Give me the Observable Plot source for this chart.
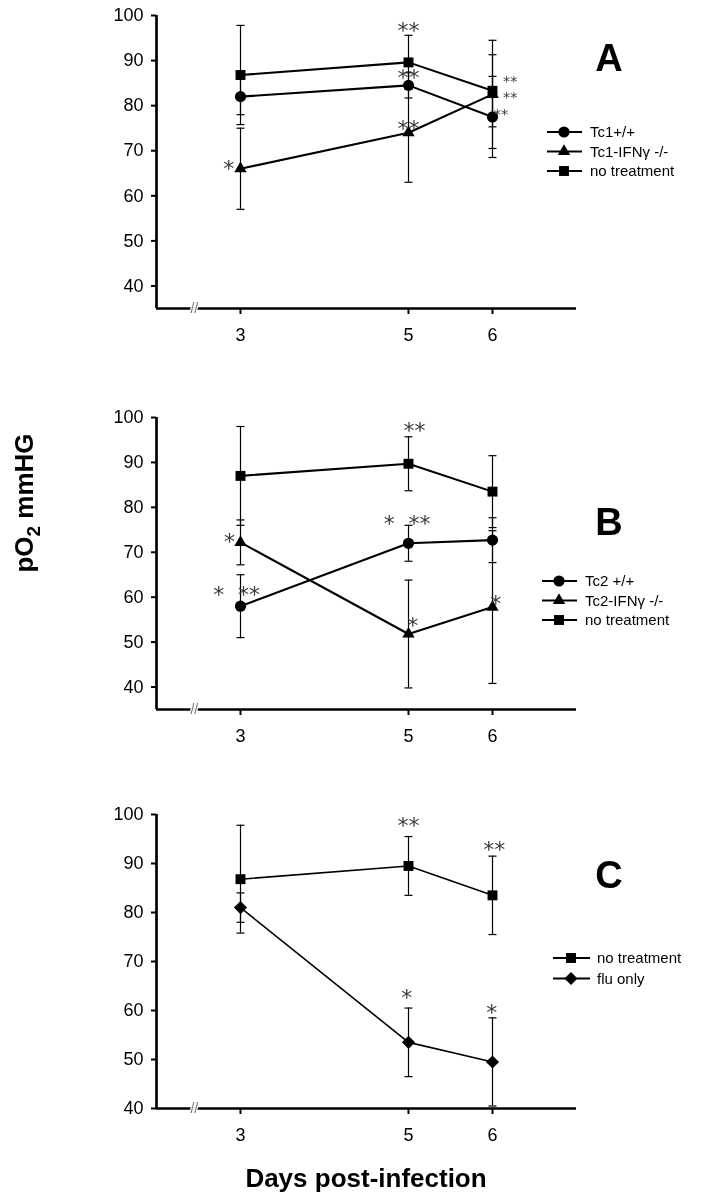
<!DOCTYPE html>
<html><head><meta charset="utf-8">
<script src="https://cdn.jsdelivr.net/npm/d3@7"></script>
<script src="https://cdn.jsdelivr.net/npm/@observablehq/plot@0.6"></script>
<style>
body{margin:0;background:#fff;font-family:"Liberation Sans",Arial,sans-serif;}
#fig{position:relative;width:701px;height:1199px;overflow:hidden;background:#fff}
.panel{position:absolute;left:0;will-change:transform}
#overlay{position:absolute;left:0;top:0}
</style></head><body><div id="fig"></div><script>
// ---------- shared ----------
const days = [3, 5, 6];
const xTicks = [3, 5, 6];
const xDomain = [2, 7];
const yTicks = [40, 50, 60, 70, 80, 90, 100];
const breakDay = 2.45;
const NB = "\u00A0";

// ---------- Panel A ----------
const aLabels = ["Tc1+/+", "Tc1-IFNγ -/-", "no treatment"];
const aTc1Mean = [82, 84.5, 77.5];
const aTc1Sd = [4, 2.8, 9];
const aTc1KoMean = [66, 74, 82.5];
const aTc1KoSd = [9, 11, 12];
const aNoTxMean = [86.8, 89.6, 83.3];
const aNoTxSd = [11, 6, 8];
const aStarDay = [5, 5, 5, 2.86];
const aStarValue = [97.3, 86.7, 75.6, 66.7];
const aStarText = ["**", "**", "**", "*"];
// stacked significance marks beside day 6
const aStackDay = [6.21];
const aStackValue = [82.6];
const aStackText = ["**\n**\n**" + NB.repeat(4)];

// ---------- Panel B ----------
const bLabels = ["Tc2 +/+", "Tc2-IFNγ -/-", "no treatment"];
const bTc2Mean = [58, 72, 72.7];
const bTc2Sd = [7, 4, 5];
const bTc2KoMean = [72.2, 51.8, 57.8];
const bTc2KoSd = [5, 12, 17];
const bNoTxMean = [87, 89.7, 83.5];
const bNoTxSd = [11, 6, 8];
const bStarDay = [5.07, 4.77, 5.13, 2.87, 2.74, 3.10, 5.05, 6.04];
const bStarValue = [97.6, 76.9, 76.9, 72.9, 61.1, 61.1, 54.2, 59.1];
const bStarText = ["**", "*", "**", "*", "*", "**", "*", "*"];

// ---------- Panel C ----------
const cLabels = ["no treatment", "flu only"];
const cNoTxMean = [86.8, 89.5, 83.5];
const cNoTxSd = [11, 6, 8];
const cFluMean = [81, 53.5, 49.5];
const cFluSd = [3, 7, 9];
const cStarDay = [5.0, 6.02, 4.98, 5.99];
const cStarValue = [98.2, 93.3, 63.1, 60.2];
const cStarText = ["**", "**", "*", "*"];

// ---------- styles ----------
const SYM = {circle: {name: "circle", r: 5.6, d3: d3.symbolCircle},
             triangle: {name: "triangle", r: 4.6, d3: d3.symbolTriangle},
             square: {name: "square", r: 5.6, d3: d3.symbolSquare},
             diamond: {name: "diamond2", r: 5.9, d3: d3.symbolDiamond2}};
const capSymbol = {draw(ctx) { ctx.moveTo(-4, 0); ctx.lineTo(4, 0); }};

const panels = [
  {top: 0, area: 293, yDomain: [35, 100], lineWidth: 2.1, letter: "A", letterBase: 71,
   series: [{mean: aTc1Mean, sd: aTc1Sd, sym: SYM.circle},
            {mean: aTc1KoMean, sd: aTc1KoSd, sym: SYM.triangle},
            {mean: aNoTxMean, sd: aNoTxSd, sym: SYM.square}],
   labels: aLabels, stars: [aStarDay, aStarValue, aStarText], stack: [aStackDay, aStackValue, aStackText],
   legend: {rows: [132, 151.5, 171], x0: 547, x1: 582, sx: 564, tx: 590}},
  {top: 402, area: 292, yDomain: [35, 100], lineWidth: 2.1, letter: "B", letterBase: 535,
   series: [{mean: bTc2Mean, sd: bTc2Sd, sym: SYM.circle},
            {mean: bTc2KoMean, sd: bTc2KoSd, sym: SYM.triangle},
            {mean: bNoTxMean, sd: bNoTxSd, sym: SYM.square}],
   labels: bLabels, stars: [bStarDay, bStarValue, bStarText],
   legend: {rows: [581, 600.5, 620], x0: 542, x1: 577, sx: 559, tx: 585}},
  {top: 799, area: 294, yDomain: [40, 100], lineWidth: 1.6, letter: "C", letterBase: 888,
   series: [{mean: cNoTxMean, sd: cNoTxSd, sym: SYM.square},
            {mean: cFluMean, sd: cFluSd, sym: SYM.diamond}],
   labels: cLabels, stars: [cStarDay, cStarValue, cStarText],
   legend: {rows: [958, 978.5], x0: 553, x1: 590, sx: 571, tx: 597}}
];

const fig = document.getElementById("fig");
const MT = 15, MB = 45;
const toRows = arr => arr[0].map((d, i) => ({day: d, value: arr[1][i], text: arr[2][i]}));

panels.forEach(p => {
  const lo = p.yDomain[0];
  const marks = [
    Plot.axisY({ticks: yTicks, tickSize: 5, tickPadding: 8, fontSize: 18, strokeWidth: 2, label: null}),
    Plot.axisX({ticks: xTicks, tickFormat: d => String(d), tickSize: 6, tickPadding: 14, fontSize: 18, strokeWidth: 2, label: null}),
    Plot.ruleX([xDomain[0]], {y1: () => lo, y2: () => 100, strokeWidth: 2.7}),
    Plot.ruleY([lo], {x1: () => xDomain[0], x2: () => xDomain[1], strokeWidth: 2.7}),
    Plot.text([breakDay], {x: d => d, y: () => lo, text: () => "//", fontSize: 14, fill: "#777", stroke: "white", strokeWidth: 2.5})
  ];
  p.series.forEach((s, k) => {
    const rows = days.map((d, i) => ({day: d, value: s.mean[i], sd: s.sd[i]}));
    marks.push(
      Plot.ruleX(rows, {x: "day", y1: d => d.value - d.sd, y2: d => d.value + d.sd, strokeWidth: 1.2}),
      Plot.dot(rows, {x: "day", y: d => d.value - d.sd, symbol: capSymbol, stroke: "black", fill: "none", strokeWidth: 1.2}),
      Plot.dot(rows, {x: "day", y: d => d.value + d.sd, symbol: capSymbol, stroke: "black", fill: "none", strokeWidth: 1.2}),
      Plot.line(rows, {x: "day", y: "value", stroke: "black", strokeWidth: p.lineWidth})
    );
  });
  p.series.forEach(s => {
    const rows = days.map((d, i) => ({day: d, value: s.mean[i]}));
    marks.push(Plot.dot(rows, {x: "day", y: "value", symbol: s.sym.name, r: s.sym.r, fill: "black", stroke: "none"}));
  });
  marks.push(Plot.text(toRows(p.stars), {x: "day", y: "value", text: "text", fontSize: 22,
    fontFamily: "DejaVu Sans", fill: "#3a3a3a", dy: 3}));
  if (p.stack) marks.push(Plot.text(toRows(p.stack), {x: "day", y: "value", text: "text", fontSize: 14.5, lineHeight: 1.14,
    fontFamily: "DejaVu Sans", fill: "#3a3a3a", dy: 3}));

  const chart = Plot.plot({
    width: 701, height: MT + p.area + MB,
    marginLeft: 156, marginRight: 125, marginTop: MT, marginBottom: MB,
    x: {domain: xDomain, axis: null},
    y: {domain: p.yDomain, axis: null},
    style: {fontFamily: "'Liberation Sans', Arial, sans-serif", color: "black", background: "transparent", overflow: "visible"},
    marks
  });
  chart.classList.add("panel");
  chart.style.top = p.top + "px";
  fig.appendChild(chart);
});

// ---------- overlay: panel letters, legends, axis titles ----------
const svg = d3.select(fig).append("svg").attr("id", "overlay").attr("width", 701).attr("height", 1199)
  .style("font-family", "'Liberation Sans', Arial, sans-serif");
panels.forEach(p => {
  svg.append("text").attr("x", 609).attr("y", p.letterBase).attr("text-anchor", "middle")
    .attr("font-weight", "bold").attr("font-size", 38).text(p.letter);
  const L = p.legend;
  p.labels.forEach((lab, i) => {
    const y = L.rows[i];
    const s = p.series[i].sym;
    svg.append("line").attr("x1", L.x0).attr("x2", L.x1).attr("y1", y).attr("y2", y).attr("stroke", "black").attr("stroke-width", 2.2);
    svg.append("path").attr("transform", `translate(${L.sx},${y})`).attr("d", d3.symbol(s.d3, Math.PI * s.r * s.r)()).attr("fill", "black");
    svg.append("text").attr("x", L.tx).attr("y", y).attr("dy", "0.36em").attr("font-size", 15).text(lab);
  });
});
const yl = svg.append("text").attr("transform", "translate(33,503) rotate(-90)").attr("text-anchor", "middle")
  .attr("font-weight", "bold").attr("font-size", 26);
yl.append("tspan").text("pO");
yl.append("tspan").attr("font-size", 19).attr("dy", 7).text("2");
yl.append("tspan").attr("dy", -7).text(" mmHG");
svg.append("text").attr("x", 366).attr("y", 1187).attr("text-anchor", "middle")
  .attr("font-weight", "bold").attr("font-size", 26).text("Days post-infection");
</script></body></html>
